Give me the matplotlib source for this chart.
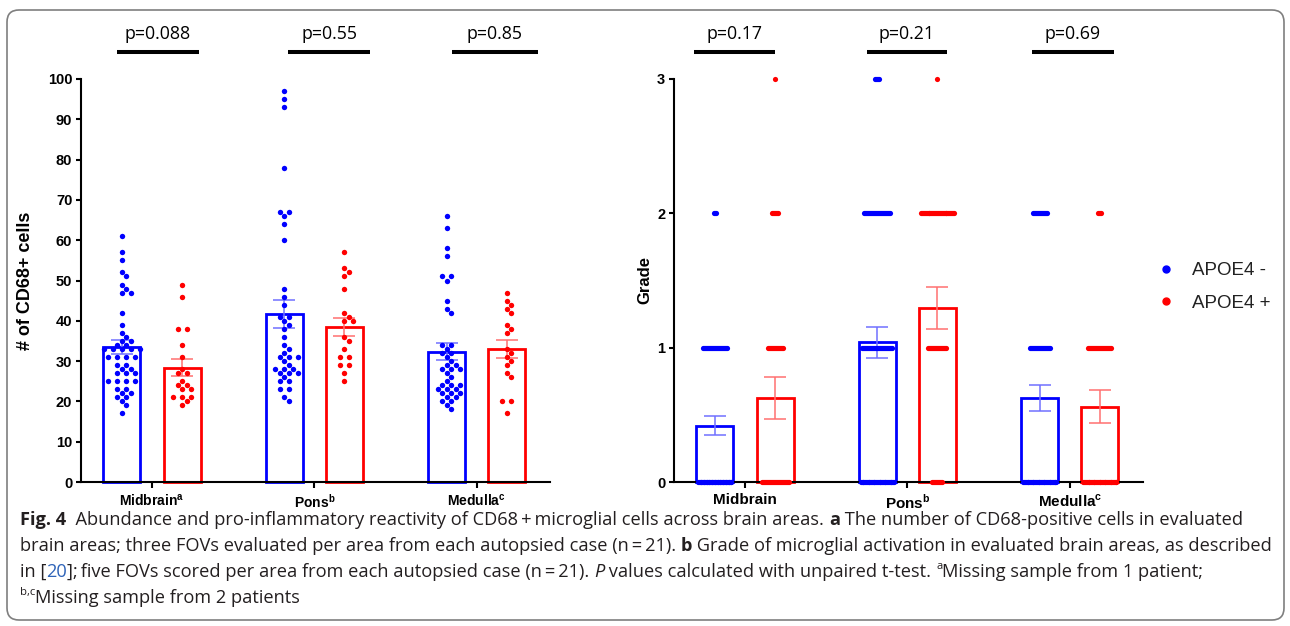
import numpy as np
import matplotlib
matplotlib.use('Agg')
import matplotlib.pyplot as plt
from matplotlib.lines import Line2D
from matplotlib.patches import FancyBboxPatch
from matplotlib.transforms import IdentityTransform, blended_transform_factory

# ---------------- data ----------------
regions = ['Midbrain', 'Pons', 'Medulla']
cd68_tick_labels = [r'Midbrain$^{\mathregular{a}}$', r'Pons$^{\mathregular{b}}$', r'Medulla$^{\mathregular{c}}$']
grade_tick_labels = ['Midbrain', r'Pons$^{\mathregular{b}}$', r'Medulla$^{\mathregular{c}}$']
groups = ['APOE4 -', 'APOE4 +']
group_colors = ['#0000FF', '#FF0000']
errbar_colors = ['#7070FF', '#FF7070']

# panel a: number of CD68+ cells per FOV
cd68_midbrain_neg = [61, 57, 55, 52, 51, 49, 48, 47, 47, 42, 39, 37, 36, 35, 35, 34, 34,
                     33, 33, 33, 33, 33, 31, 31, 31, 31, 29, 29, 28, 28, 27, 27, 27,
                     25, 25, 25, 25, 23, 23, 22, 22, 21, 21, 20, 19, 17]
cd68_midbrain_pos = [49, 46, 38, 38, 34, 31, 28, 27, 27, 25, 24, 24, 23, 23, 21, 21, 21, 20, 19]
cd68_pons_neg = [97, 95, 93, 78, 67, 67, 66, 64, 60, 48, 46, 44, 41, 41, 40, 39, 38, 36,
                 34, 33, 32, 31, 31, 31, 30, 29, 28, 28, 28, 27, 27, 27, 26, 25, 25,
                 23, 23, 21, 20]
cd68_pons_pos = [57, 53, 52, 51, 48, 42, 41, 40, 40, 36, 35, 33, 31, 31, 29, 29, 27, 25]
cd68_medulla_neg = [66, 63, 58, 56, 51, 51, 50, 45, 43, 42, 34, 34, 33, 32, 32, 31, 30,
                    29, 29, 28, 28, 28, 27, 26, 25, 24, 24, 24, 23, 23, 23, 22, 22, 22,
                    21, 21, 20, 20, 19, 18]
cd68_medulla_pos = [47, 45, 44, 43, 42, 39, 38, 37, 33, 32, 31, 30, 29, 27, 26, 20, 20, 17]
cd68_mean_neg = [33.5, 41.7, 32.3]
cd68_sem_neg = [1.75, 3.45, 2.1]
cd68_mean_pos = [28.4, 38.5, 33.0]
cd68_sem_pos = [2.15, 2.3, 2.15]
cd68_p = ['p=0.088', 'p=0.55', 'p=0.85']

# panel b: microglial activation grade (number of FOVs at each grade 0..3)
grade_levels = [0, 1, 2, 3]
grade_counts_midbrain_neg = [46, 25, 3, 0]
grade_counts_midbrain_pos = [28, 16, 7, 1]
grade_counts_pons_neg = [40, 31, 27, 5]
grade_counts_pons_pos = [11, 19, 36, 1]
grade_counts_medulla_neg = [40, 21, 15, 0]
grade_counts_medulla_pos = [40, 24, 4, 0]
grade_mean_neg = [0.42, 1.04, 0.625]
grade_sem_neg = [0.072, 0.117, 0.095]
grade_mean_pos = [0.627, 1.295, 0.56]
grade_sem_pos = [0.157, 0.154, 0.124]
grade_p = ['p=0.17', 'p=0.21', 'p=0.69']

# ---------------- layout ----------------
W, H = 1290, 626
plt.rcParams['font.family'] = ['Liberation Sans', 'DejaVu Sans']
fig = plt.figure(figsize=(W / 100, H / 100), dpi=100)
fig.patch.set_facecolor('white')


def axes_px(x0, x1, ytop, ybot):
    return fig.add_axes([x0 / W, (H - ybot) / H, (x1 - x0) / W, (ybot - ytop) / H])


axA = axes_px(81, 550, 79, 482)
axB = axes_px(674, 1143, 79, 482)
XLIM = (-0.437, 2.45)
BAR_OFF = 0.185
BAR_W = 0.228
xcat = np.arange(len(regions))


def style_axes(ax, ylim, yticks, xlabels, xlabel_size, ylabel, ylabel_size, ylabel_x):
    ax.set_xlim(*XLIM)
    ax.set_ylim(*ylim)
    for s in ['top', 'right']:
        ax.spines[s].set_visible(False)
    for s in ['left', 'bottom']:
        ax.spines[s].set_linewidth(1.5)
        ax.spines[s].set_color('black')
    ax.set_yticks(yticks)
    ax.set_xticks(xcat)
    ax.set_xticklabels(xlabels)
    ax.tick_params(axis='y', direction='out', length=3.8, width=1.5, pad=2.5, labelsize=10.5)
    ax.tick_params(axis='x', direction='out', length=4.3, width=1.5, pad=3.5, labelsize=xlabel_size)
    for lab in ax.get_yticklabels() + ax.get_xticklabels():
        lab.set_fontweight('bold')
    ax.set_ylabel(ylabel, fontsize=ylabel_size, fontweight='bold')
    ax.yaxis.set_label_coords(ylabel_x, 0.5)


style_axes(axA, (0, 100), np.arange(0, 101, 10), cd68_tick_labels, 10, '# of CD68+ cells', 13, -0.100)
style_axes(axB, (0, 3), [0, 1, 2, 3], grade_tick_labels, 11, 'Grade', 12, -0.047)


def draw_bars(ax, means, sems, gi):
    x = xcat + (BAR_OFF if gi else -BAR_OFF)
    ax.bar(x, means, width=BAR_W, facecolor='none', edgecolor=group_colors[gi],
           linewidth=2.0, zorder=1, clip_on=False)
    ax.errorbar(x, means, yerr=sems, fmt='none', ecolor=errbar_colors[gi],
                elinewidth=1.1, capsize=8.2, capthick=1.1, zorder=2.8, clip_on=False)


def beeswarm(ax, xc, values, color):
    """Row-wise scatter: equal values spread side by side, neighbouring rows interleaved."""
    tr = ax.transData
    vals = np.asarray(values, dtype=float)
    ypx = tr.transform(np.column_stack([np.zeros(len(vals)), vals]))[:, 1]
    step = 9.0
    offs = np.zeros(len(vals))
    placed = []  # (dx, y) in pixels
    for v in sorted(set(vals.tolist()), reverse=True):
        idx = np.where(vals == v)[0]
        n = len(idx)
        y = ypx[idx[0]]
        base = (np.arange(n) - (n - 1) / 2) * step
        best, best_score = 0.0, None
        for shift in (0.0, step / 2, -step / 2):
            score = 0
            for dx in base + shift:
                for px, py in placed:
                    if abs(py - y) < 6.0 and abs(px - dx) < 3.0:
                        score += 1
            if best_score is None or score < best_score:
                best, best_score = shift, score
        for j, dx in zip(idx, base + best):
            offs[j] = dx
            placed.append((dx, y))
    xc_px = tr.transform((xc, 0))[0]
    xs = tr.inverted().transform(np.column_stack([xc_px + offs, ypx]))[:, 0]
    ax.scatter(xs, vals, s=15, color=color, linewidths=0, zorder=3, clip_on=False)


def strip(ax, xc, counts, color):
    ppu = ax.transData.transform((1, 0))[0] - ax.transData.transform((0, 0))[0]
    xs, ys = [], []
    for level, n in zip(grade_levels, counts):
        if n == 0:
            continue
        span = min((n - 1) * 1.0, 33.0) / ppu
        xs.extend(xc + np.linspace(-span / 2, span / 2, n))
        ys.extend([level] * n)
    ax.scatter(xs, ys, s=14, color=color, linewidths=0, zorder=3, clip_on=False)


# panel a
draw_bars(axA, cd68_mean_neg, cd68_sem_neg, 0)
draw_bars(axA, cd68_mean_pos, cd68_sem_pos, 1)
for i, (neg, pos) in enumerate([(cd68_midbrain_neg, cd68_midbrain_pos),
                                (cd68_pons_neg, cd68_pons_pos),
                                (cd68_medulla_neg, cd68_medulla_pos)]):
    beeswarm(axA, i - BAR_OFF, neg, group_colors[0])
    beeswarm(axA, i + BAR_OFF, pos, group_colors[1])

# panel b
draw_bars(axB, grade_mean_neg, grade_sem_neg, 0)
draw_bars(axB, grade_mean_pos, grade_sem_pos, 1)
for i, (neg, pos) in enumerate([(grade_counts_midbrain_neg, grade_counts_midbrain_pos),
                                (grade_counts_pons_neg, grade_counts_pons_pos),
                                (grade_counts_medulla_neg, grade_counts_medulla_pos)]):
    strip(axB, i - BAR_OFF, neg, group_colors[0])
    strip(axB, i + BAR_OFF, pos, group_colors[1])

# p-value annotations (line spans relative to category centre)
P_FAMILY = ['Open Sans', 'DejaVu Sans']
cd68_p_spans = [(-0.215, 0.289), (-0.16, 0.345), (-0.154, 0.375)]
grade_p_spans = [(-0.314, 0.185), (-0.252, 0.246), (-0.234, 0.271)]


def pvals(ax, labels, spans):
    tr = blended_transform_factory(ax.transData, IdentityTransform())
    for i, (lab, (a, b)) in enumerate(zip(labels, spans)):
        fig.add_artist(Line2D([i + a, i + b], [H - 52, H - 52], transform=tr, color='black',
                              lw=2.9, solid_capstyle='butt'))
        fig.text(0, 0, lab, transform=tr, ha='center', va='center', fontsize=12.8,
                 family=P_FAMILY, color='black').set_position((i + (a + b) / 2, H - 34))


pvals(axA, cd68_p, cd68_p_spans)
pvals(axB, grade_p, grade_p_spans)

# legend
handles = [Line2D([], [], marker='o', ls='none', color=c, markersize=5.0) for c in group_colors]
fig.legend(handles, groups, loc='upper left', bbox_to_anchor=(1157 / W, 1 - 262 / H),
           frameon=False, fontsize=13.5, handlelength=1.0, handletextpad=0.87,
           labelspacing=0.82, borderpad=0, borderaxespad=0, labelcolor='#222222')

# caption
CAP_FAMILY = ['Open Sans', 'DejaVu Sans']
CAP_COLOR = '#231f20'
LINK_COLOR = '#2e63b8'
caption_lines = [
    [('Fig. 4', 'bold'),
     ('  Abundance and pro-inflammatory reactivity of CD68\u2009+\u2009microglial cells across brain areas. ', 'normal'),
     ('a', 'bold'), (' The number of CD68-positive cells in evaluated', 'normal')],
    [('brain areas; three FOVs evaluated per area from each autopsied case (n\u2009=\u200921). ', 'normal'),
     ('b', 'bold'), (' Grade of microglial activation in evaluated brain areas, as described', 'normal')],
    [('in [', 'normal'), ('20', 'link'),
     ('];\u2009five FOVs scored per area from each autopsied case (n\u2009=\u200921). ', 'normal'),
     ('P', 'italic'), (' values calculated with unpaired t-test. ', 'normal'),
     ('a', 'sup'), ('Missing sample from 1 patient;', 'normal')],
    [('b,c', 'sup'), ('Missing sample from 2 patients', 'normal')],
]
caption_baselines = [525, 551, 577, 603]
CAP_X0 = 20
CAP_LINE1_RIGHT = 1238

renderer = fig.canvas.get_renderer()


def seg_style(kind, size):
    kw = dict(fontsize=size, family=CAP_FAMILY, color=CAP_COLOR)
    rise = 0.0
    if kind == 'bold':
        kw['fontweight'] = 'bold'
    elif kind == 'italic':
        kw['fontstyle'] = 'italic'
    elif kind == 'link':
        kw['color'] = LINK_COLOR
    elif kind == 'sup':
        kw['fontsize'] = size * 0.62
        rise = 0.42 * size * 100 / 72
    return kw, rise


def text_width(s, kw):
    t1 = fig.text(0, 0, s + '|', **kw)
    t2 = fig.text(0, 0, '|', **kw)
    w = t1.get_window_extent(renderer).width - t2.get_window_extent(renderer).width
    t1.remove()
    t2.remove()
    return w


def line_width(segs, size):
    return sum(text_width(t, seg_style(k, size)[0]) for t, k in segs)


base = 12.0
cap_size = base * (CAP_LINE1_RIGHT - CAP_X0) / line_width(caption_lines[0], base)

for segs, yb in zip(caption_lines, caption_baselines):
    x = CAP_X0
    for t, k in segs:
        kw, rise = seg_style(k, cap_size)
        fig.text(x / W, (H - yb + rise) / H, t, ha='left', va='baseline', **kw)
        x += text_width(t, kw)

# rounded frame
border = FancyBboxPatch((7, H - 620), 1277, 610, boxstyle='round,pad=0,rounding_size=12',
                        transform=IdentityTransform(), fill=False, edgecolor='#7f7f7f', linewidth=1.2)
fig.add_artist(border)

fig.savefig('out.png', dpi=100, facecolor='white')
